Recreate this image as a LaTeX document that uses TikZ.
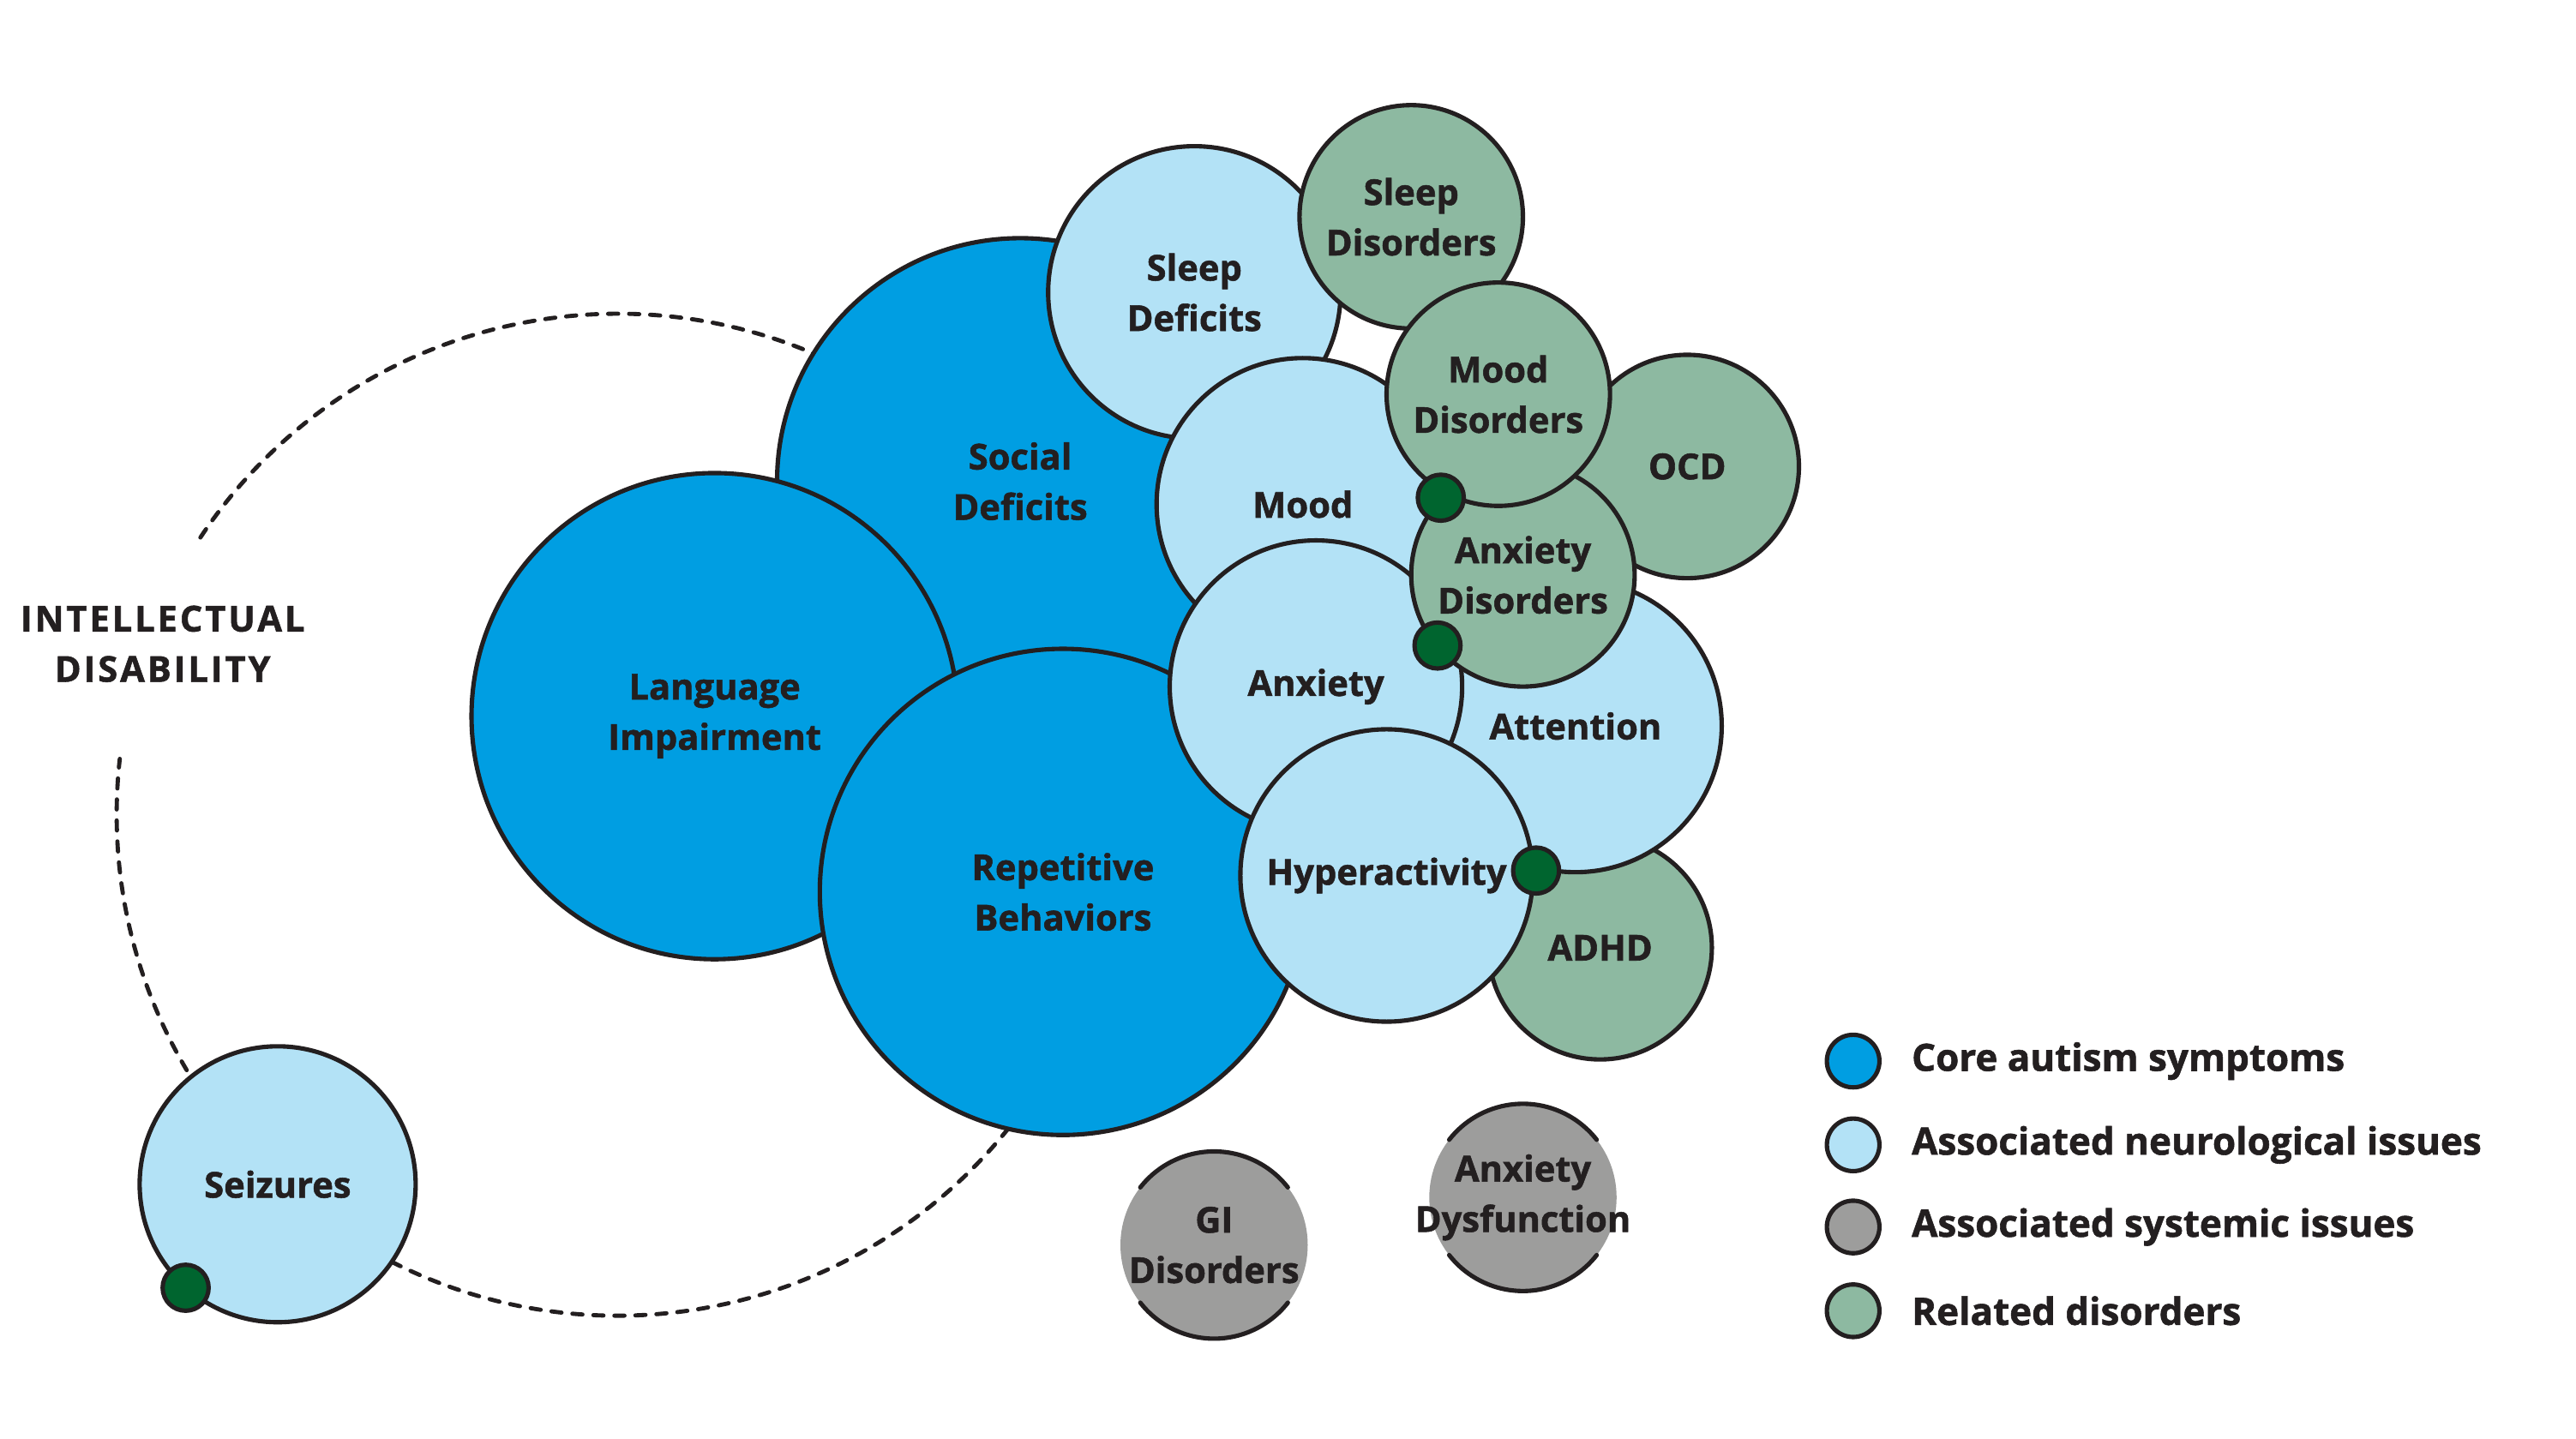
\documentclass[tikz,border=0pt]{standalone}
\usepackage{fontspec}
\setmainfont{Open Sans}[BoldFeatures={FakeBold=1.3}]
\newfontfamily\capsfont[LetterSpace=7,BoldFeatures={FakeBold=1.3}]{Open Sans}
\usetikzlibrary{positioning}

\definecolor{coreblue}{RGB}{0,158,226}
\definecolor{neuroblue}{RGB}{179,226,246}
\definecolor{sysgray}{RGB}{157,157,156}
\definecolor{relgreen}{RGB}{141,185,161}
\definecolor{dotgreen}{RGB}{0,101,47}
\definecolor{inkdark}{RGB}{35,31,32}

\newcommand\bubblefont{\fontsize{16.3}{23}\selectfont\bfseries}

\tikzset{every picture/.style={line width=2pt}}
\tikzset{
  bubble/.style={circle, draw=inkdark, text=inkdark, inner sep=0pt, outer sep=0pt, align=center, font=\bubblefont, minimum size=#1},
  core/.style={bubble=222pt, fill=coreblue},
  neuro/.style={bubble=133.5pt, fill=neuroblue},
  related/.style={bubble=102pt, fill=relgreen},
  systemic/.style={circle, fill=sysgray, inner sep=0pt, outer sep=0pt, minimum size=85.5pt},
  systext/.style={text=inkdark, inner sep=0pt, align=center, font=\bubblefont},
  halfrim/.style={draw=inkdark, line cap=round},
  linkdot/.style={circle, draw=inkdark, fill=dotgreen, inner sep=0pt, minimum size=21pt},
  keydot/.style={circle, draw=inkdark, inner sep=0pt, minimum size=24pt},
  keytext/.style={anchor=west, text=inkdark, inner sep=0.75pt, font=\fontsize{17.2}{23}\selectfont\bfseries}
}

\begin{document}
\begin{tikzpicture}[x=0.75pt,y=0.75pt,yscale=-1,xscale=1]
        \path (0,0) rectangle (1568,876); %set diagram size

        %Dashed Circle: intellectual disability
        \coordinate (idcenter) at (376,496);
        \draw [inkdark, line width=1.9pt, line cap=round, dash pattern={on 4.6pt off 5pt}] ([shift={(213.6:305)}]idcenter) arc [start angle=213.6, end angle=546.4, radius=305];
        % Text Node
        \node [text=inkdark, align=center, font=\fontsize{16.3}{23}\selectfont\capsfont\bfseries] (idlabel) at (99,392) {INTELLECTUAL\\DISABILITY};

        %Shape: Core circles
        \node [core] (social) at (621,293) {Social\\Deficits};
        \node [core] (language) at (435,436) {Language\\Impairment};
        \node [core] (repetitive) at (647,543) {Repetitive\\Behaviors};

        %Shape: Neurological and related circles
        \node [neuro] (sleepdef) at (727,178) {Sleep\\Deficits};
        \node [related] (sleepdis) at (859,132) {Sleep\\Disorders};
        \node [neuro] (mood) at (793,307) {Mood};
        \node [related] (ocd) at (1027,284) {OCD};
        \node [related] (adhd) at (974,577) {ADHD};
        \node [neuro] (attention) at (959,442) {Attention};
        \node [neuro] (anxiety) at (801,418) {Anxiety};
        \node [related] (anxdis) at (927,350) {Anxiety\\Disorders};
        \node [related] (mooddis) at (912,240) {Mood\\Disorders};
        \node [neuro] (hyper) at (844,533) {Hyperactivity};
        \node [bubble=126pt, fill=neuroblue] (seizures) at (169,721) {Seizures};

        %Shape: Systemic circles with broken rim
        \node [systemic] (gi) at (739,758) {};
        \draw [halfrim] (gi.38) arc [start angle=-38, end angle=-142, radius=57];
        \draw [halfrim] (gi.218) arc [start angle=-218, end angle=-322, radius=57];
        \node [systext] (gitext) at (gi) {GI\\Disorders};
        \node [systemic] (anxdys) at (927,729) {};
        \draw [halfrim] (anxdys.38) arc [start angle=-38, end angle=-142, radius=57];
        \draw [halfrim] (anxdys.218) arc [start angle=-218, end angle=-322, radius=57];
        \node [systext] (anxdystext) at (anxdys) {Anxiety\\Dysfunction};

        %Shape: Link dots
        \node [linkdot] (linkmood) at (877,303) {};
        \node [linkdot] (linkanx) at (875,393) {};
        \node [linkdot] (linkhyper) at (935,530) {};
        \node [linkdot] (linkseiz) at (113,784) {};

        %Legend
        \node [keydot, fill=coreblue] (keycore) at (1128,646) {};
        \node [keytext, right=12pt of keycore] (keycoretext) {Core autism symptoms};
        \node [keydot, fill=neuroblue] (keyneuro) at (1128,697) {};
        \node [keytext, right=12pt of keyneuro] (keyneurotext) {Associated neurological issues};
        \node [keydot, fill=sysgray] (keysys) at (1128,747) {};
        \node [keytext, right=12pt of keysys] (keysystext) {Associated systemic issues};
        \node [keydot, fill=relgreen] (keyrel) at (1128,798) {};
        \node [keytext, right=12pt of keyrel] (keyreltext) {Related disorders};

\end{tikzpicture}
\end{document}
